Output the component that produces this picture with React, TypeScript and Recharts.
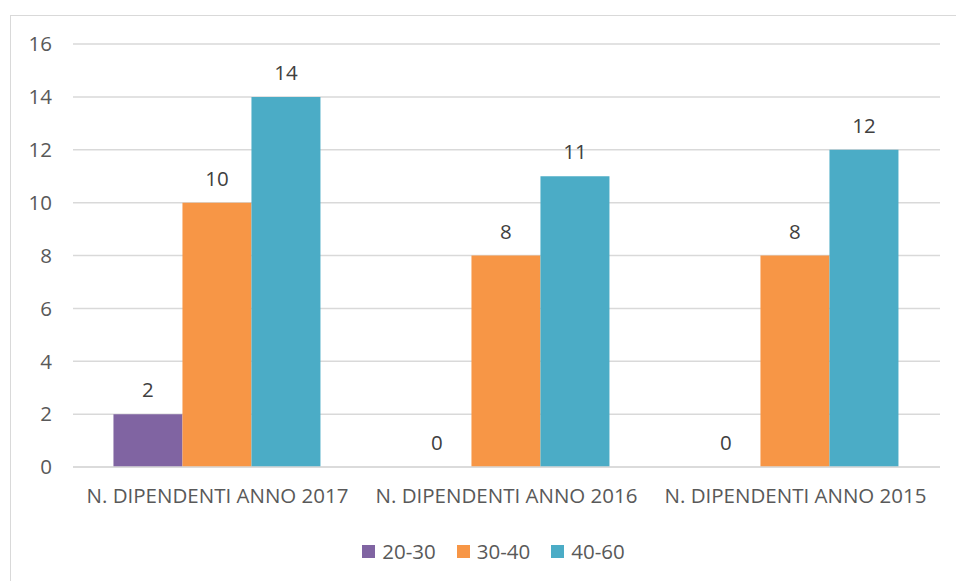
import React from "react";
import { BarChart, Bar, XAxis, YAxis, CartesianGrid, Legend, LabelList } from "recharts";

const categories = ["N. DIPENDENTI ANNO 2017", "N. DIPENDENTI ANNO 2016", "N. DIPENDENTI ANNO 2015"];
const s2030 = [2, 0, 0];
const s3040 = [10, 8, 8];
const s4060 = [14, 11, 12];
const yTicks = [0, 2, 4, 6, 8, 10, 12, 14, 16];
const seriesNames = ["20-30", "30-40", "40-60"];
const seriesColors = ["#8064A2", "#F79646", "#4BACC6"];

const data = categories.map((c, i) => ({
  name: c,
  "20-30": s2030[i],
  "30-40": s3040[i],
  "40-60": s4060[i],
}));

const FONT = "'Open Sans', sans-serif";
const FS = 20.5;

const LegendContent = () => (
  <div style={{ display: "flex", justifyContent: "center", alignItems: "center", height: 30, fontFamily: FONT, fontSize: FS, color: "#595959", paddingLeft: 36 }}>
    {seriesNames.map((n, i) => (
      <div key={n} style={{ display: "flex", alignItems: "center", marginRight: i < 2 ? 21 : 0 }}>
        <div style={{ width: 13, height: 13, background: seriesColors[i], marginRight: 7 }} />
        <span>{n}</span>
      </div>
    ))}
  </div>
);

export default function App() {
  return (
    <div style={{ position: "absolute", left: 10, top: 15, width: 960, height: 580, border: "1px solid #D9D9D9", boxSizing: "border-box", background: "#fff" }}>
      <BarChart
        width={946}
        height={565}
        data={data}
        margin={{ top: 28, right: 17, left: 0, bottom: 15 }}
        barCategoryGap="14%"
        barGap={0}
      >
        <CartesianGrid vertical={false} stroke="#D9D9D9" strokeWidth={1.5} />
        <XAxis
          dataKey="name"
          axisLine={{ stroke: "#D9D9D9", strokeWidth: 1.5 }}
          tickLine={false}
          tickSize={0}
          tickMargin={21}
          height={69}
          tick={{ fill: "#595959", fontSize: FS, fontFamily: FONT }}
          interval={0}
        />
        <YAxis
          domain={[0, 16]}
          ticks={yTicks}
          width={62}
          axisLine={false}
          tickLine={false}
          tickSize={0}
          tickMargin={21}
          tick={{ fill: "#595959", fontSize: FS, fontFamily: FONT }}
          interval={0}
        />
        <Legend verticalAlign="bottom" height={30} content={<LegendContent />} />
        {seriesNames.map((n, i) => (
          <Bar key={n} dataKey={n} fill={seriesColors[i]} isAnimationActive={false} minPointSize={0.01}>
            <LabelList dataKey={n} position="top" offset={17} fill="#404040" fontSize={FS} fontFamily={FONT} />
          </Bar>
        ))}
      </BarChart>
    </div>
  );
}
